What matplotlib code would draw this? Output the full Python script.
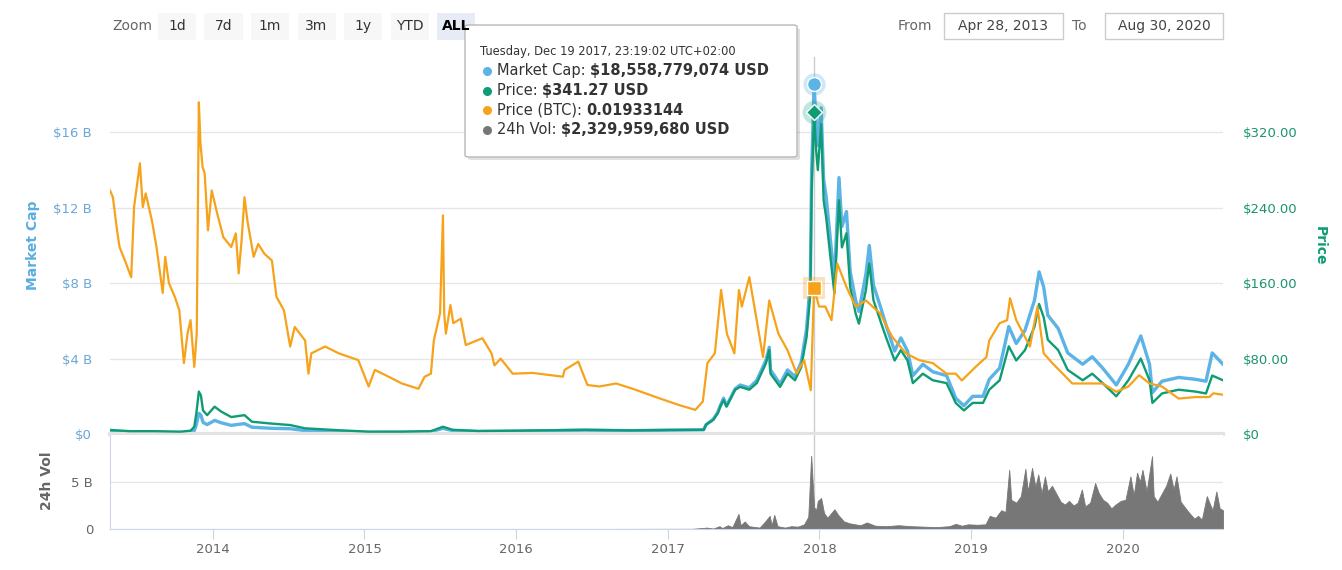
import pandas as pd
import matplotlib
matplotlib.use('Agg')
import matplotlib.pyplot as plt
import matplotlib.dates as mdates
from matplotlib.patches import Rectangle, FancyBboxPatch
from matplotlib.lines import Line2D
from matplotlib.text import Annotation

# ---- data ----
btc_dates = ['2013-04-28', '2013-05-05', '2013-05-15', '2013-05-21', '2013-06-03', '2013-06-18',
             '2013-06-25', '2013-07-09', '2013-07-16', '2013-07-23', '2013-08-07', '2013-08-18',
             '2013-09-02', '2013-09-08', '2013-09-17', '2013-10-01', '2013-10-12', '2013-10-23',
             '2013-11-01', '2013-11-08', '2013-11-17', '2013-11-23', '2013-11-28', '2013-12-02',
             '2013-12-07', '2013-12-12', '2013-12-20', '2013-12-29', '2014-01-11', '2014-01-26',
             '2014-02-14', '2014-02-25', '2014-03-04', '2014-03-11', '2014-03-18', '2014-03-25',
             '2014-04-09', '2014-04-20', '2014-05-05', '2014-05-23', '2014-06-03', '2014-06-21',
             '2014-07-06', '2014-07-17', '2014-08-11', '2014-08-19', '2014-08-26', '2014-09-28',
             '2014-10-31', '2014-12-17', '2015-01-11', '2015-01-26', '2015-02-28', '2015-04-01',
             '2015-05-11', '2015-05-26', '2015-06-10', '2015-06-17', '2015-07-02', '2015-07-09',
             '2015-07-12', '2015-07-16', '2015-07-27', '2015-08-03', '2015-08-21', '2015-09-02',
             '2015-10-12', '2015-11-03', '2015-11-10', '2015-11-25', '2015-12-24', '2016-02-10',
             '2016-04-23', '2016-04-27', '2016-05-30', '2016-06-21', '2016-07-20', '2016-08-29',
             '2016-10-08', '2016-12-13', '2017-01-30', '2017-03-08', '2017-03-26', '2017-04-06',
             '2017-04-24', '2017-05-09', '2017-05-23', '2017-06-10', '2017-06-21', '2017-06-28',
             '2017-07-16', '2017-07-31', '2017-08-18', '2017-09-02', '2017-09-24', '2017-10-16',
             '2017-11-07', '2017-11-25', '2017-12-11', '2017-12-19', '2017-12-31', '2018-01-15',
             '2018-01-30', '2018-02-13', '2018-03-07', '2018-03-29', '2018-04-23', '2018-05-27',
             '2018-06-25', '2018-07-28', '2018-08-29', '2018-10-01', '2018-11-03', '2018-11-25',
             '2018-12-10', '2019-01-12', '2019-02-07', '2019-02-14', '2019-03-11', '2019-03-29',
             '2019-04-05', '2019-04-20', '2019-05-23', '2019-06-10', '2019-06-25', '2019-07-16',
             '2019-09-02', '2019-10-12', '2019-11-14', '2019-12-17', '2020-01-15', '2020-02-10',
             '2020-03-06', '2020-04-05', '2020-05-15', '2020-06-25', '2020-07-28', '2020-08-07',
             '2020-08-30']
btc_price = [0.0323, 0.0314, 0.0270, 0.0248, 0.0230, 0.0208,
             0.0301, 0.0359, 0.0301, 0.0319, 0.0283, 0.0248,
             0.0187, 0.0235, 0.0200, 0.0182, 0.0164, 0.0094,
             0.0134, 0.0151, 0.0089, 0.0134, 0.0440, 0.0385,
             0.0354, 0.0346, 0.0270, 0.0323, 0.0293, 0.0261,
             0.0248, 0.0266, 0.0213, 0.0257, 0.0314, 0.0283,
             0.0235, 0.0252, 0.0239, 0.0230, 0.0182, 0.0164,
             0.0116, 0.0142, 0.0124, 0.0080, 0.0107, 0.0116,
             0.0107, 0.0098, 0.0063, 0.0085, 0.0076, 0.0067,
             0.0060, 0.0076, 0.0080, 0.0124, 0.0160, 0.0290,
             0.0160, 0.0133, 0.0171, 0.0147, 0.0153, 0.0118,
             0.0127, 0.0107, 0.0091, 0.0100, 0.0080, 0.0081,
             0.0076, 0.0085, 0.0096, 0.0065, 0.0063, 0.0067,
             0.0060, 0.0047, 0.0038, 0.0032, 0.0043, 0.0094,
             0.0107, 0.0191, 0.0133, 0.0107, 0.0191, 0.0169,
             0.0208, 0.0160, 0.0102, 0.0177, 0.0133, 0.0111,
             0.0080, 0.0098, 0.0058, 0.01933144, 0.0169, 0.0169,
             0.0151, 0.0226, 0.0195, 0.0169, 0.0177, 0.0160,
             0.0129, 0.0107, 0.0098, 0.0094, 0.0080, 0.0080,
             0.0071, 0.0089, 0.0102, 0.0124, 0.0147, 0.0151,
             0.0180, 0.0151, 0.0116, 0.0169, 0.0107, 0.0094,
             0.0067, 0.0067, 0.0067, 0.0056, 0.0063, 0.0078,
             0.0067, 0.0063, 0.0047, 0.0049, 0.0049, 0.0054,
             0.0052]

usd_dates = ['2013-04-28', '2013-06-15', '2013-08-15', '2013-10-15', '2013-11-08', '2013-11-17',
             '2013-11-22', '2013-11-28', '2013-12-03', '2013-12-08', '2013-12-18', '2014-01-05',
             '2014-01-20', '2014-02-14', '2014-03-18', '2014-04-05', '2014-05-23', '2014-07-06',
             '2014-08-11', '2014-10-31', '2015-01-11', '2015-04-01', '2015-06-10', '2015-07-09',
             '2015-08-01', '2015-10-01', '2016-01-01', '2016-06-15', '2016-10-01', '2017-01-01',
             '2017-03-28', '2017-04-03', '2017-04-20', '2017-05-01', '2017-05-07', '2017-05-15',
             '2017-05-22', '2017-06-12', '2017-06-24', '2017-07-16', '2017-08-03', '2017-08-25',
             '2017-09-02', '2017-09-05', '2017-09-28', '2017-10-16', '2017-11-03', '2017-11-18',
             '2017-12-01', '2017-12-10', '2017-12-13', '2017-12-19', '2017-12-24', '2017-12-28',
             '2018-01-05', '2018-01-11', '2018-01-17', '2018-01-30', '2018-02-06', '2018-02-17',
             '2018-02-24', '2018-03-07', '2018-03-16', '2018-03-29', '2018-04-06', '2018-04-23',
             '2018-05-01', '2018-05-11', '2018-05-30', '2018-06-10', '2018-07-01', '2018-07-16',
             '2018-08-01', '2018-08-14', '2018-09-07', '2018-10-01', '2018-11-03', '2018-11-18',
             '2018-11-25', '2018-12-15', '2019-01-05', '2019-01-30', '2019-02-14', '2019-03-11',
             '2019-04-02', '2019-04-20', '2019-05-11', '2019-06-03', '2019-06-14', '2019-06-25',
             '2019-07-05', '2019-07-30', '2019-08-22', '2019-09-27', '2019-10-20', '2019-11-14',
             '2019-12-17', '2020-01-15', '2020-02-14', '2020-03-06', '2020-03-13', '2020-04-05',
             '2020-05-15', '2020-06-25', '2020-07-20', '2020-08-04', '2020-08-30']
usd_price = [4.3, 3.0, 3.0, 2.5, 3.5, 7.7,
             22, 45, 41, 25, 20, 29,
             24, 18, 20, 13, 11, 9.5,
             6, 4, 2.5, 2.5, 3, 7.7,
             4.5, 3.2, 3.5, 4.5, 3.8, 4.3,
             4.5, 10, 15, 22, 29, 36,
             29, 47, 50, 47, 54, 75,
             89, 64, 50, 64, 57, 71,
             103, 149, 255, 341.27, 301, 280,
             329, 248, 230, 177, 149, 248,
             198, 213, 156, 128, 117, 153,
             181, 142, 117, 103, 78, 89,
             78, 54, 64, 57, 54, 40,
             33, 25, 33, 33, 47, 57,
             93, 78, 89, 114, 138, 124,
             100, 89, 68, 57, 64, 54,
             40, 57, 80, 57, 33, 43,
             47, 45, 43, 62, 57]
market_cap_b = [0.08, 0.055, 0.06, 0.055, 0.08, 0.18,
                0.5, 1.1, 1.0, 0.62, 0.5, 0.72,
                0.6, 0.46, 0.55, 0.36, 0.3, 0.28,
                0.18, 0.12, 0.08, 0.09, 0.12, 0.3,
                0.18, 0.13, 0.15, 0.2, 0.18, 0.2,
                0.22, 0.5, 0.78, 1.15, 1.5, 1.9,
                1.5, 2.4, 2.6, 2.45, 2.85, 3.9,
                4.6, 3.4, 2.65, 3.4, 3.05, 3.8,
                5.6, 8.1, 13.8, 18.56, 16.4, 15.3,
                17.3, 13.5, 12.6, 9.7, 8.2, 13.6,
                11.0, 11.8, 8.6, 7.1, 6.5, 8.5,
                10.0, 7.9, 6.6, 5.8, 4.4, 5.1,
                4.4, 3.1, 3.7, 3.3, 3.1, 2.3,
                1.9, 1.5, 2.0, 2.0, 2.9, 3.5,
                5.7, 4.8, 5.5, 7.1, 8.6, 7.8,
                6.3, 5.6, 4.3, 3.7, 4.1, 3.5,
                2.6, 3.7, 5.2, 3.7, 2.2, 2.8,
                3.0, 2.9, 2.8, 4.3, 3.7]

vol_dates = ['2013-04-28', '2014-06-01', '2015-06-01', '2016-06-01', '2017-03-01', '2017-04-05',
             '2017-04-20', '2017-05-05', '2017-05-12', '2017-05-25', '2017-06-05', '2017-06-20',
             '2017-06-25', '2017-07-05', '2017-07-15', '2017-08-01', '2017-08-10', '2017-08-25',
             '2017-09-03', '2017-09-08', '2017-09-14', '2017-09-22', '2017-10-10', '2017-10-25',
             '2017-11-10', '2017-11-25', '2017-12-05', '2017-12-12', '2017-12-19', '2017-12-24',
             '2017-12-28', '2018-01-05', '2018-01-12', '2018-01-20', '2018-02-06', '2018-02-15',
             '2018-03-01', '2018-03-15', '2018-04-10', '2018-04-25', '2018-05-15', '2018-06-10',
             '2018-07-10', '2018-08-10', '2018-09-10', '2018-10-10', '2018-11-10', '2018-11-25',
             '2018-12-10', '2018-12-25', '2019-01-15', '2019-02-05', '2019-02-15', '2019-03-01',
             '2019-03-15', '2019-03-25', '2019-04-03', '2019-04-08', '2019-04-20', '2019-05-01',
             '2019-05-12', '2019-05-18', '2019-05-28', '2019-06-05', '2019-06-12', '2019-06-20',
             '2019-06-28', '2019-07-05', '2019-07-15', '2019-07-25', '2019-08-05', '2019-08-15',
             '2019-08-25', '2019-09-05', '2019-09-15', '2019-09-25', '2019-10-03', '2019-10-15',
             '2019-10-27', '2019-11-05', '2019-11-15', '2019-11-25', '2019-12-05', '2019-12-15',
             '2019-12-28', '2020-01-08', '2020-01-20', '2020-01-28', '2020-02-05', '2020-02-12',
             '2020-02-18', '2020-02-28', '2020-03-12', '2020-03-16', '2020-03-25', '2020-04-05',
             '2020-04-15', '2020-04-25', '2020-05-03', '2020-05-10', '2020-05-20', '2020-06-01',
             '2020-06-10', '2020-06-22', '2020-07-01', '2020-07-10', '2020-07-22', '2020-07-30',
             '2020-08-05', '2020-08-14', '2020-08-22', '2020-08-30']
vol_b = [0.002, 0.003, 0.002, 0.003, 0.02, 0.15,
         0.05, 0.3, 0.1, 0.4, 0.2, 1.6,
         0.4, 0.8, 0.3, 0.2, 0.15, 0.9,
         1.4, 0.4, 1.5, 0.3, 0.15, 0.3,
         0.25, 0.5, 1.3, 7.8, 2.33, 2.0,
         3.0, 3.3, 1.7, 1.2, 2.1, 1.5,
         0.8, 0.6, 0.4, 0.7, 0.35, 0.3,
         0.4, 0.3, 0.25, 0.2, 0.3, 0.55,
         0.35, 0.5, 0.45, 0.5, 1.4, 1.2,
         2.0, 1.8, 6.3, 3.1, 2.8, 3.5,
         6.4, 4.0, 6.5, 4.5, 5.8, 3.8,
         5.6, 4.0, 4.6, 3.8, 2.9, 2.6,
         3.0, 2.5, 2.8, 4.2, 2.4, 2.8,
         4.9, 3.8, 3.1, 2.8, 2.2, 2.6,
         3.0, 3.1, 5.6, 3.6, 6.0, 5.0,
         6.3, 4.0, 7.75, 3.5, 2.9, 3.8,
         4.6, 5.9, 4.2, 5.6, 2.9, 2.2,
         1.7, 1.1, 1.4, 1.0, 3.5, 2.6,
         2.0, 4.0, 2.2, 2.0]

cap_ticks = [0, 4, 8, 12, 16]
cap_labels = ['$0', '$4 B', '$8 B', '$12 B', '$16 B']
price_ticks = [0, 80, 160, 240, 320]
price_labels = ['$0', '$80.00', '$160.00', '$240.00', '$320.00']
zoom_buttons = ['1d', '7d', '1m', '3m', '1y', 'YTD', 'ALL']
hover_date = '2017-12-19'
tooltip_title = 'Tuesday, Dec 19 2017, 23:19:02 UTC+02:00'
tooltip_rows = [('Market Cap: ', '$18,558,779,074 USD'),
                ('Price: ', '$341.27 USD'),
                ('Price (BTC): ', '0.01933144'),
                ('24h Vol: ', '$2,329,959,680 USD')]

BLUE = '#5cb3e6'
GREEN = '#0f9c74'
ORANGE = '#f7a21b'
GRAY = '#777777'
plt.rcParams['font.family'] = 'DejaVu Sans'

W, H = 1342, 570
fig = plt.figure(figsize=(W / 100, H / 100), dpi=100)


def fx(px):
    return px / W


def fy(py):
    return 1 - py / H


btc_dates = pd.to_datetime(btc_dates)
usd_dates = pd.to_datetime(usd_dates)
vol_dates = pd.to_datetime(vol_dates)
hover = pd.Timestamp(hover_date)
x0, x1 = pd.Timestamp('2013-04-28'), pd.Timestamp('2020-08-30')

# main panel
ax = fig.add_axes([fx(110), fy(434), fx(1223) - fx(110), fy(57) - fy(434)])
ax.set_xlim(x0, x1)
ax.set_ylim(0, 20)
ax.set_yticks(cap_ticks)
ax.set_yticklabels(cap_labels)
ax.set_xticks([])
ax.grid(axis='y', color='#e6e6e6', lw=1)
ax.set_axisbelow(True)
for s in ['top', 'left', 'right']:
    ax.spines[s].set_visible(False)
ax.spines['bottom'].set_color('#e3e3e3')
ax.spines['bottom'].set_linewidth(3)
ax.tick_params(axis='y', length=0, pad=13, labelsize=9.5, labelcolor='#6aa6d6')
ax.axvline(hover, color='#cccccc', lw=1, zorder=0)
ax.plot(usd_dates, market_cap_b, color=BLUE, lw=2.4, solid_joinstyle='round')

axp = ax.twinx()
axp.set_ylim(0, 400)
axp.set_yticks(price_ticks)
axp.set_yticklabels(price_labels)
for s in axp.spines.values():
    s.set_visible(False)
axp.tick_params(axis='y', length=0, pad=14, labelsize=9.5, labelcolor='#1a9370')
axp.plot(usd_dates, usd_price, color=GREEN, lw=1.7)

axb = ax.twinx()
axb.set_ylim(0, 0.05)
axb.axis('off')
axb.plot(btc_dates, btc_price, color=ORANGE, lw=1.6)

# hover markers
ax.plot([hover], [18.56], 'o', ms=16, color=BLUE, alpha=0.3, mew=0)
ax.plot([hover], [18.56], 'o', ms=10, color=BLUE, mec='white', mew=1)
axp.plot([hover], [341.27], 'o', ms=17, color=GREEN, alpha=0.25, mew=0)
axp.plot([hover], [341.27], 'D', ms=8, color=GREEN, mec='white', mew=1)
axb.plot([hover], [0.01933144], 's', ms=16, color=ORANGE, alpha=0.3, mew=0)
axb.plot([hover], [0.01933144], 's', ms=10, color=ORANGE, mec='white', mew=1)

# volume panel
av = fig.add_axes([fx(110), fy(529), fx(1223) - fx(110), fy(435) - fy(529)])
av.set_xlim(x0, x1)
av.set_ylim(0, 10)
av.set_yticks([0, 5])
av.set_yticklabels(['0', '5 B'])
av.grid(axis='y', color='#e6e6e6', lw=1)
av.set_axisbelow(True)
av.spines['top'].set_visible(False)
av.spines['right'].set_visible(False)
av.spines['left'].set_color('#ccd6eb')
av.spines['bottom'].set_color('#ccd6eb')
av.xaxis.set_major_locator(mdates.YearLocator())
av.xaxis.set_major_formatter(mdates.DateFormatter('%Y'))
av.tick_params(axis='x', length=7, color='#ccd6eb', pad=3, labelsize=9.5, labelcolor='#666666')
av.tick_params(axis='y', length=0, pad=12, labelsize=9.5, labelcolor='#666666')
av.axvline(hover, color='#cccccc', lw=1, zorder=0)
av.fill_between(vol_dates, vol_b, color=GRAY, lw=0.6, edgecolor=GRAY)

# axis titles
fig.text(fx(33), fy(245), 'Market Cap', rotation=90, ha='center', va='center',
         fontsize=10, fontweight='bold', color='#5aaee0')
fig.text(fx(1320), fy(246), 'Price', rotation=270, ha='center', va='center',
         fontsize=10, fontweight='bold', color='#0f9c74')
fig.text(fx(47), fy(481), '24h Vol', rotation=90, ha='center', va='center',
         fontsize=10, fontweight='bold', color='#666666')

# range selector
fig.text(fx(112), fy(26), 'Zoom', ha='left', va='center', fontsize=10, color='#666666')
bx = 158
for lab in zoom_buttons:
    active = lab == 'ALL'
    fig.add_artist(Rectangle((fx(bx), fy(40)), fx(38), fy(13) - fy(40), transform=fig.transFigure,
                             facecolor='#e6ebf5' if active else '#f7f7f7', edgecolor='none'))
    fig.text(fx(bx + 19), fy(26), lab, ha='center', va='center', fontsize=10,
             color='#000000' if active else '#333333', fontweight='bold' if active else 'normal')
    bx += 46.5

fig.text(fx(898), fy(26), 'From', ha='left', va='center', fontsize=10, color='#666666')
fig.text(fx(1072), fy(26), 'To', ha='left', va='center', fontsize=10, color='#666666')
for left, right, lab in [(944, 1063, 'Apr 28, 2013'), (1105, 1223, 'Aug 30, 2020')]:
    fig.add_artist(Rectangle((fx(left), fy(39)), fx(right - left), fy(13) - fy(39),
                             transform=fig.transFigure, facecolor='white', edgecolor='#cccccc', lw=1))
    fig.text(fx((left + right) / 2), fy(26), lab, ha='center', va='center', fontsize=10, color='#444444')

# tooltip
fig.add_artist(FancyBboxPatch((fx(468), fy(160)), fx(797 - 465), fy(25) - fy(157),
                              boxstyle='round,pad=0,rounding_size=0.003', transform=fig.transFigure,
                              facecolor='#000000', alpha=0.12, edgecolor='none'))
fig.add_artist(FancyBboxPatch((fx(465), fy(157)), fx(797 - 465), fy(25) - fy(157),
                              boxstyle='round,pad=0,rounding_size=0.003', transform=fig.transFigure,
                              facecolor='white', edgecolor='#b8b8b8', lw=1))
fig.text(fx(480), fy(51), tooltip_title, ha='left', va='center', fontsize=8.3, color='#333333')
colors = [BLUE, GREEN, ORANGE, GRAY]
for i, (lab, val) in enumerate(tooltip_rows):
    yy = 71 + i * 19.6
    fig.add_artist(Line2D([fx(487)], [fy(yy)], marker='o', ms=6.5, color=colors[i], mew=0,
                          transform=fig.transFigure))
    t = fig.text(fx(497), fy(yy), lab, ha='left', va='center', fontsize=10.5, color='#333333')
    ann = Annotation(val, xy=(1, 0), xycoords=t, ha='left', va='bottom', fontsize=10.5,
                     fontweight='bold', color='#333333', annotation_clip=False)
    ann.set_zorder(4)
    fig.add_artist(ann)

fig.savefig('out.png', dpi=100)
